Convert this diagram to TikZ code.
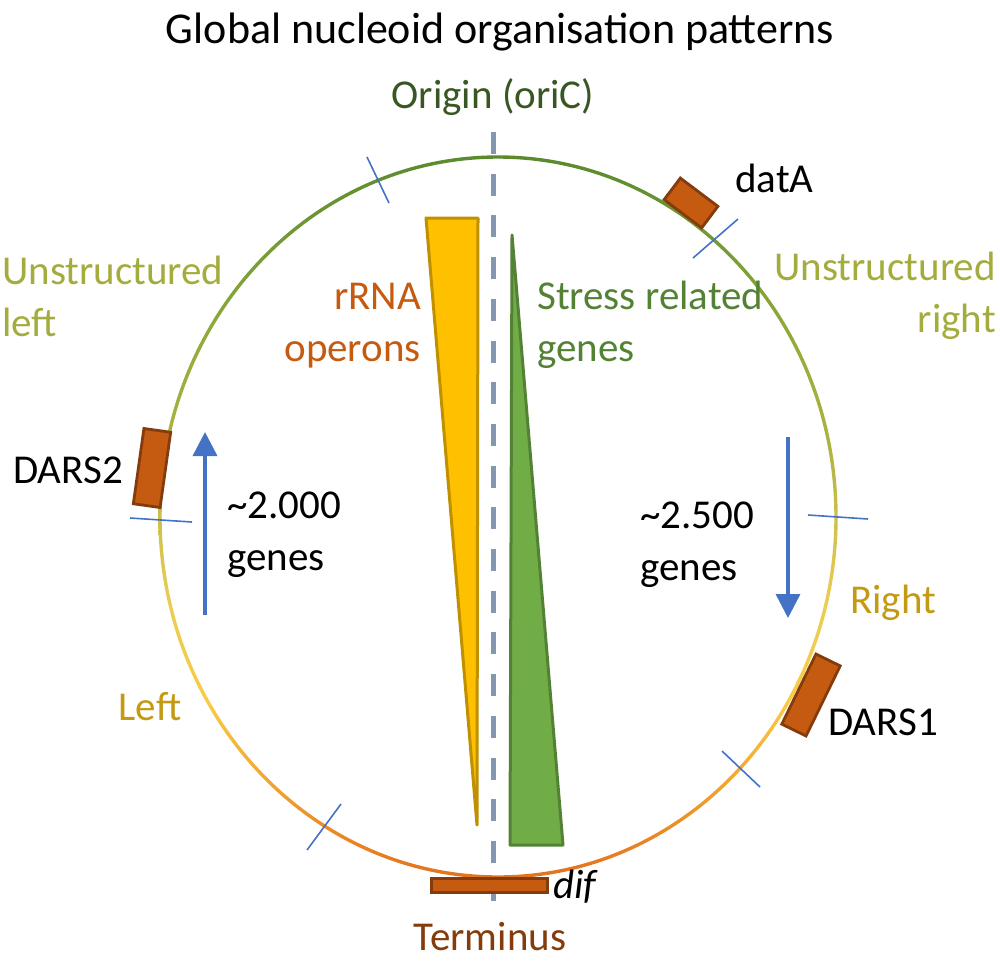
\documentclass[tikz,border=0pt]{standalone}
\usepackage{fontspec}
\setmainfont{Carlito}
\usetikzlibrary{arrows.meta, positioning}

\definecolor{oricgreen}{HTML}{385723}
\definecolor{unstruct}{HTML}{A5AC3E}
\definecolor{rrnaorange}{HTML}{C55A11}
\definecolor{stressgreen}{HTML}{548235}
\definecolor{armgold}{HTML}{C49A12}
\definecolor{termbrown}{HTML}{843C0C}
\definecolor{tickblue}{HTML}{4472C4}
\definecolor{sitefill}{HTML}{C55A11}
\definecolor{siteborder}{HTML}{843C0C}
\definecolor{rrnafill}{HTML}{FFC000}
\definecolor{rrnaborder}{HTML}{BF9000}
\definecolor{stressfill}{HTML}{70AD47}
\definecolor{stressborder}{HTML}{548235}
\definecolor{axisgray}{HTML}{8497B0}

\definecolor{ringa}{HTML}{E2711D}
\definecolor{ringb}{HTML}{F2A531}
\definecolor{ringc}{HTML}{F9CB45}
\definecolor{ringd}{HTML}{E9CD52}
\definecolor{ringe}{HTML}{CDBF4C}
\definecolor{ringf}{HTML}{B0B440}
\definecolor{ringg}{HTML}{8EAA3A}
\definecolor{ringh}{HTML}{5A8A2E}

\pgfdeclareverticalshading{ringshade}{100bp}{color(0bp)=(ringa); color(25bp)=(ringa);
  color(31.7bp)=(ringb); color(37.3bp)=(ringc); color(44.3bp)=(ringd); color(50bp)=(ringe);
  color(54.7bp)=(ringf); color(63bp)=(ringg); color(75bp)=(ringh); color(100bp)=(ringh)}

\begin{document}
\begin{tikzpicture}[x=1pt, y=-1pt, >={Triangle[length=24pt,width=24pt]},
  every node/.style={inner sep=0pt, font=\fontsize{41}{52}\selectfont},
  site/.style={draw=siteborder, fill=sitefill, line width=2.8pt},
  cutmark/.style={draw=tickblue, line width=1.6pt},
  genearrow/.style={->, draw=tickblue, fill=tickblue, line width=3.5pt}]

\useasboundingbox (0,0) rectangle (1000,962);

% Chromosome ring
\begin{scope}[even odd rule]
\clip (498,517) ellipse [x radius=339.7, y radius=361.7]
      (498,517) ellipse [x radius=336.3, y radius=358.3];
\shade[shading=ringshade] (150,155.3) rectangle (850,878.7);
\end{scope}

% ori-ter axis
\coordinate (ori) at (493,132);
\coordinate (ter) at (493,901);
\draw[draw=axisgray, line width=5pt, dash pattern=on 22pt off 19.7pt] (ori) -- (ter);

% Macrodomain borders
\draw[cutmark] (367,157) -- (389,203);
\draw[cutmark] (738,219) -- (693,258);
\draw[cutmark] (808,515) -- (868,519);
\draw[cutmark] (130,518) -- (192,522);
\draw[cutmark] (722,751) -- (760,787);
\draw[cutmark] (307,850) -- (341,804);

% Sites
\node[site, minimum width=47, minimum height=27, rotate=-37] (databox) at (691,203) {};
\node[site, minimum width=27, minimum height=76, rotate=-8] (dars2box) at (152,468) {};
\node[site, minimum width=27, minimum height=78, rotate=-26] (dars1box) at (811,695) {};
\node[site, minimum width=116, minimum height=14] (difbox) at (489.5,885.5) {};

% Gradients
\draw[draw=rrnaborder, fill=rrnafill, line width=3pt, line join=round] (426,218) -- (478,218) -- (477,825) -- cycle;
\draw[draw=stressborder, fill=stressfill, line width=3pt, line join=round] (512,235) -- (563,845) -- (510,845) -- cycle;

% Replichore arrows
\coordinate (lefttail) at (205,615);
\coordinate (lefthead) at (205,432);
\coordinate (righttail) at (788,437);
\coordinate (righthead) at (788,618);
\draw[genearrow] (lefttail) -- (lefthead);
\draw[genearrow] (righttail) -- (righthead);

% Labels
\node[font=\fontsize{44}{52}\selectfont] (title) at (500,32) {Global nucleoid organisation patterns};
\node[text=oricgreen] (oric) at (493,97) {Origin (oriC)};
\node[anchor=west] (datalbl) at (735,178) {datA};
\node[anchor=west, align=left, text=unstruct] (unleft) at (2,296) {Unstructured\\left};
\node[anchor=east, align=right, text=unstruct] (unright) at (996,296) {Unstructured\\right};
\node[anchor=east, align=right, text=rrnaorange] (rrna) at (421,326) {rRNA\\operons};
\node[anchor=west, align=left, text=stressgreen] (stress) at (537,325) {Stress related\\genes};
\node (dars2lbl) at (68,470) {DARS2};
\node[anchor=west, align=left] (leftgenes) at (227,535) {\textasciitilde 2.000\\genes};
\node[anchor=west, align=left] (rightgenes) at (640,545) {\textasciitilde 2.500\\genes};
\node[text=armgold] (rightlbl) at (893,603) {Right};
\node[text=armgold] (leftlbl) at (150,707) {Left};
\node (dars1lbl) at (883,722) {DARS1};
\node[font=\fontsize{41}{52}\selectfont\itshape] (diflbl) at (575,887) {dif};
\node[text=termbrown] (termlbl) at (490,937) {Terminus};

\end{tikzpicture}
\end{document}
